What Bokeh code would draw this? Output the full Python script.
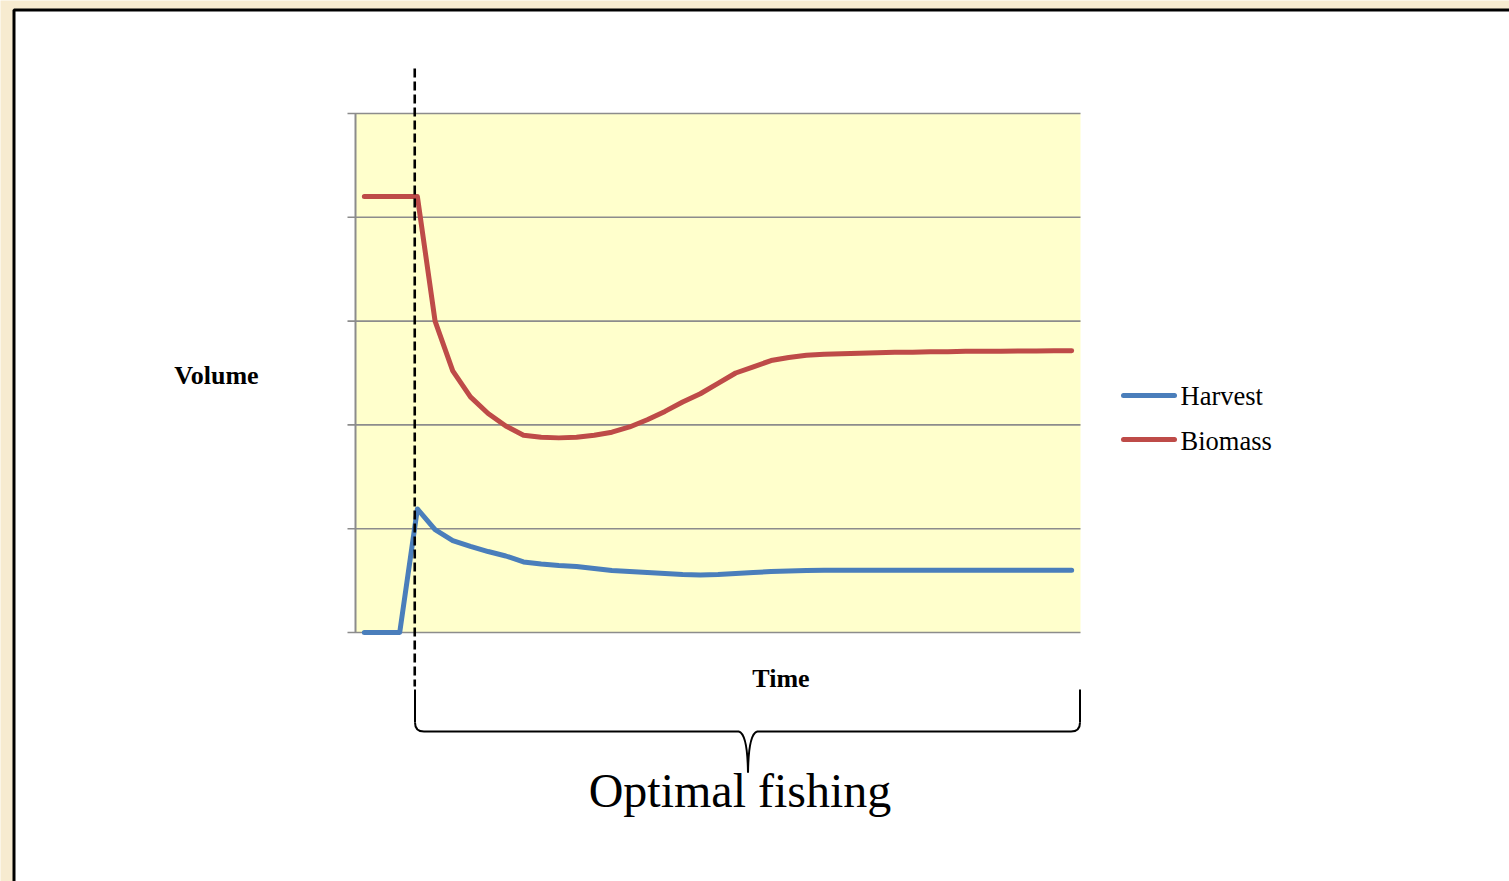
from bokeh.plotting import figure
from bokeh.models import Range1d
from bokeh.embed import file_html
from bokeh.resources import INLINE
from bokeh.core.properties import value

# ---------------- data ----------------
time_index = list(range(41))
harvest = [0.0, 0.0, 0.0, 1.19, 0.99, 0.886, 0.83, 0.78, 0.737, 0.68,
           0.66, 0.645, 0.636, 0.617, 0.597, 0.588, 0.578, 0.568, 0.559, 0.554,
           0.559, 0.568, 0.578, 0.588, 0.592, 0.597, 0.60, 0.60, 0.60, 0.60,
           0.60, 0.60, 0.60, 0.60, 0.60, 0.60, 0.60, 0.60, 0.60, 0.60, 0.60]
biomass = [4.2, 4.2, 4.2, 4.2, 3.0, 2.52, 2.27, 2.11, 1.99, 1.90,
           1.88, 1.875, 1.88, 1.90, 1.93, 1.98, 2.05, 2.13, 2.22, 2.30,
           2.40, 2.50, 2.56, 2.62, 2.65, 2.67, 2.68, 2.685, 2.69, 2.695,
           2.70, 2.70, 2.705, 2.705, 2.71, 2.71, 2.71, 2.712, 2.713, 2.714, 2.715]
grid_levels = [0, 1, 2, 3, 4, 5]
series_names = ["Harvest", "Biomass"]
event_time = 2.85          # start of optimal fishing (dashed line)
y_label = "Volume"
x_label = "Time"
brace_label = "Optimal fishing"

# ---------------- layout ----------------
W, H = 1509, 881
PLOT_L, PLOT_R, PLOT_T, PLOT_B = 355, 1080, 113, 632
n_cat = len(time_index)
ppx = (PLOT_R - PLOT_L) / n_cat
ppy = (PLOT_B - PLOT_T) / (grid_levels[-1] - grid_levels[0])
x_start = -0.5 - PLOT_L / ppx
x_end = x_start + W / ppx
y_top = grid_levels[-1] + PLOT_T / ppy
y_bot = y_top - H / ppy


def dx(px):
    return x_start + px / ppx


def dy(py):
    return y_top - py / ppy


BEIGE = "#F7EBD0"
YELLOW = "#FFFFCC"
GRID = "#8C8C8C"
BLUE = "#4A7EBB"
RED = "#BE4B48"
SERIF = value("Liberation Serif")

p = figure(width=W, height=H, x_range=Range1d(x_start, x_end),
           y_range=Range1d(y_bot, y_top), toolbar_location=None,
           output_backend="svg", min_border=0, min_border_left=0,
           min_border_right=0, min_border_top=0, min_border_bottom=0)
p.axis.visible = False
p.grid.visible = False
p.outline_line_color = None
p.background_fill_color = BEIGE
p.border_fill_color = BEIGE

# white slide panel with black frame
p.quad(left=[dx(13.5)], right=[dx(1530)], top=[dy(9.5)], bottom=[dy(900)],
       fill_color="white", line_color="black", line_width=3)

# plot area
p.quad(left=[-0.5], right=[n_cat - 0.5], top=[grid_levels[-1]], bottom=[grid_levels[0]],
       fill_color=YELLOW, line_color=None)
# gridlines (with outward ticks)
p.segment(x0=[dx(347)] * len(grid_levels), x1=[n_cat - 0.5] * len(grid_levels),
          y0=grid_levels, y1=grid_levels, line_color=GRID, line_width=1.6)
# value axis line
p.segment(x0=[-0.5], x1=[-0.5], y0=[grid_levels[0]], y1=[grid_levels[-1]],
          line_color=GRID, line_width=2)

# series
p.line(time_index, harvest, line_color=BLUE, line_width=5,
       line_cap="round", line_join="round")
p.line(time_index, biomass, line_color=RED, line_width=5,
       line_cap="round", line_join="round")

# dashed event line
p.segment(x0=[event_time], x1=[event_time], y0=[dy(68)], y1=[dy(686)],
          line_color="black", line_width=2.6, line_dash="9 4")

# brace under the time axis
bx0, bx1, bmid = dx(414.5), dx(1079.5), dx(747.5)
by_top, by_line, by_tip = dy(689), dy(731), dy(772)
r = 9 / ppx
ry = 9 / ppy
p.segment(x0=[bx0, bx1], x1=[bx0, bx1], y0=[by_top, by_top], y1=[by_line + ry, by_line + ry],
          line_color="black", line_width=2)
p.quadratic(x0=[bx0, bx1, bmid - r, bmid + r],
            y0=[by_line + ry, by_line + ry, by_line, by_line],
            x1=[bx0 + r, bx1 - r, bmid, bmid],
            y1=[by_line, by_line, by_tip, by_tip],
            cx=[bx0, bx1, bmid - 0.5 / ppx, bmid + 0.5 / ppx],
            cy=[by_line, by_line, by_line - 3 / ppy, by_line - 3 / ppy],
            line_color="black", line_width=2)
p.segment(x0=[bx0 + r, bmid + r], x1=[bmid - r, bx1 - r], y0=[by_line, by_line],
          y1=[by_line, by_line], line_color="black", line_width=2)

# legend
leg_y = [dy(395), dy(439)]
p.segment(x0=[dx(1123)] * 2, x1=[dx(1174)] * 2, y0=leg_y, y1=leg_y,
          line_color=[BLUE, RED], line_width=5, line_cap="round")
p.text(x=[dx(1180)] * 2, y=[dy(395), dy(440)], text=series_names,
       text_font=SERIF, text_font_size=value("26.5px"), text_color="black",
       text_align="left", text_baseline="middle")

# axis titles
p.text(x=[dx(216)], y=[dy(375)], text=[y_label], text_font=SERIF,
       text_font_size=value("26px"), text_font_style="bold",
       text_align="center", text_baseline="middle", text_color="black")
p.text(x=[dx(780.5)], y=[dy(678)], text=[x_label], text_font=SERIF,
       text_font_size=value("26px"), text_font_style="bold",
       text_align="center", text_baseline="middle", text_color="black")
p.text(x=[dx(739.5)], y=[dy(790)], text=[brace_label], text_font=SERIF,
       text_font_size=value("48px"), text_align="center",
       text_baseline="middle", text_color="black")

open("out.html", "w").write(file_html(p, INLINE))
